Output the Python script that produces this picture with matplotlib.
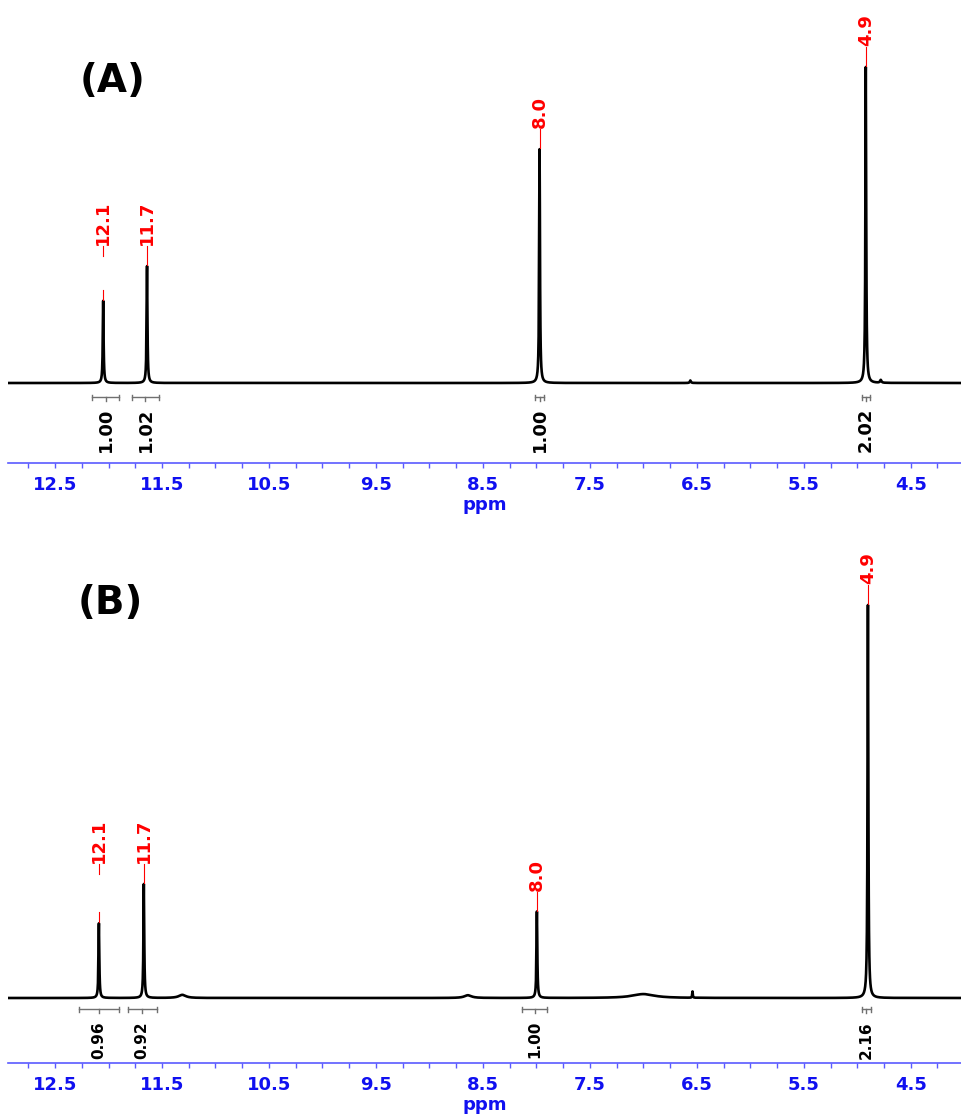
import numpy as np
import matplotlib.pyplot as plt
from matplotlib.ticker import FixedLocator, MultipleLocator

plt.rcParams['font.family'] = ['DejaVu Sans']
plt.rcParams['font.weight'] = 'bold'

# main signals: chemical shift (ppm) and relative height (tallest = 100)
peak_labels = ["12.1", "11.7", "8.0", "4.9"]
shift_a = [12.05, 11.64, 7.97, 4.92]
height_a = [26, 37, 74, 100]
shift_b = [12.09, 11.67, 7.995, 4.90]
height_b = [19, 29, 22, 100]

# small baseline features: shift, height, width
small_a_shift = [6.56, 4.78]
small_a_height = [0.8, 0.9]
small_a_width = [0.012, 0.015]
small_b_shift = [11.31, 8.64, 7.0, 6.54]
small_b_height = [0.8, 0.7, 1.0, 1.6]
small_b_width = [0.08, 0.08, 0.25, 0.006]

# integral regions and values
int_a_from = [12.15, 11.78, 8.01, 4.96]
int_a_to = [11.90, 11.53, 7.93, 4.88]
int_a_value = ["1.00", "1.02", "1.00", "2.02"]
int_b_from = [12.28, 11.82, 8.13, 4.96]
int_b_to = [11.90, 11.55, 7.90, 4.87]
int_b_value = ["0.96", "0.92", "1.00", "2.16"]

tick_ppm = [12.5, 11.5, 10.5, 9.5, 8.5, 7.5, 6.5, 5.5, 4.5]

BLUE = '#1010f0'
FW = 961
FH = 1120


def lorentz(x, x0, h, w):
    return h / (1 + ((x - x0) / (w / 2)) ** 2)


def draw_panel(ax, shifts, heights, sm_shift, sm_h, sm_w,
               i_from, i_to, i_val, px_unit, base_px, top_px,
               int_size, int_gap, int_text_gap):
    ppm = np.arange(4.03, 12.95, 0.0005)
    y = np.zeros_like(ppm)
    for s, h in zip(shifts, heights):
        y += lorentz(ppm, s, h, 0.009)
    for s, h, w in zip(sm_shift, sm_h, sm_w):
        y += lorentz(ppm, s, h, w)
    ax.plot(ppm, y, color='black', lw=1.9)

    ax.set_xlim(12.94, 4.03)
    ax.set_ylim(-base_px / px_unit, top_px / px_unit)

    # peak labels
    for s, h, lab in zip(shifts, heights, peak_labels):
        group = [hh for ss, hh in zip(shifts, heights) if abs(ss - s) < 0.6]
        ly = max(group) + 21 / px_unit
        y0 = h + 1 / px_unit
        y1 = ly - 1 / px_unit
        seg = 10 / px_unit
        if y1 - y0 < 2 * seg + 2 / px_unit:
            ax.plot([s, s], [y0, y1], color='red', lw=0.8)
        else:
            ax.plot([s, s], [y0, y0 + seg], color='red', lw=0.8)
            ax.plot([s, s], [y1 - seg, y1], color='red', lw=0.8)
        ax.text(s, ly, lab, rotation=90, ha='center', va='bottom',
                color='red', fontsize=13, fontweight='bold')

    # integrals
    by = -int_gap / px_unit
    cap = 2.5 / px_unit
    for a, b, v in zip(i_from, i_to, i_val):
        c = (a + b) / 2
        ax.plot([a, b], [by, by], color='#707070', lw=1)
        ax.plot([a, a], [by - cap, by + cap], color='#707070', lw=1)
        ax.plot([b, b], [by - cap, by + cap], color='#707070', lw=1)
        ax.plot([c, c], [by, by - 4 / px_unit], color='#707070', lw=1)
        ax.text(c, by - int_text_gap / px_unit, v, rotation=90, ha='center',
                va='top', color='black', fontsize=int_size, fontweight='bold')

    for sp in ['top', 'left', 'right']:
        ax.spines[sp].set_visible(False)
    ax.spines['bottom'].set_color('#5a5aff')
    ax.spines['bottom'].set_linewidth(1.2)
    ax.set_yticks([])
    ax.xaxis.set_major_locator(FixedLocator(tick_ppm))
    ax.xaxis.set_minor_locator(MultipleLocator(0.25))
    ax.tick_params(axis='x', which='both', colors='#5a5aff', length=3.5,
                   width=1, labelcolor=BLUE, labelsize=13, pad=6)
    ax.set_xticklabels([f"{t:.1f}" for t in tick_ppm], fontweight='bold')
    ax.set_xlabel('ppm', color=BLUE, fontsize=13, fontweight='bold',
                  labelpad=1)
    ax.patch.set_alpha(0)


fig = plt.figure(figsize=(FW / 100, FH / 100), dpi=100)

# top panel: axis line at 463 px, baseline at 383 px
ax1 = fig.add_axes([8 / FW, (FH - 463) / FH, 953 / FW, 463 / FH])
draw_panel(ax1, shift_a, height_a, small_a_shift, small_a_height,
           small_a_width, int_a_from, int_a_to, int_a_value,
           px_unit=3.16, base_px=80, top_px=383,
           int_size=13, int_gap=14, int_text_gap=11)

# bottom panel: axis line at 1063 px, baseline at 998 px
ax2 = fig.add_axes([8 / FW, (FH - 1063) / FH, 953 / FW, 543 / FH])
draw_panel(ax2, shift_b, height_b, small_b_shift, small_b_height,
           small_b_width, int_b_from, int_b_to, int_b_value,
           px_unit=3.93, base_px=65, top_px=478,
           int_size=11, int_gap=11, int_text_gap=12)

fig.text(113 / FW, 1 - 81 / FH, "(A)", fontsize=28, fontweight='bold',
         ha='center', va='center')
fig.text(110 / FW, 1 - 603 / FH, "(B)", fontsize=28, fontweight='bold',
         ha='center', va='center')

fig.savefig('out.png', dpi=100)
